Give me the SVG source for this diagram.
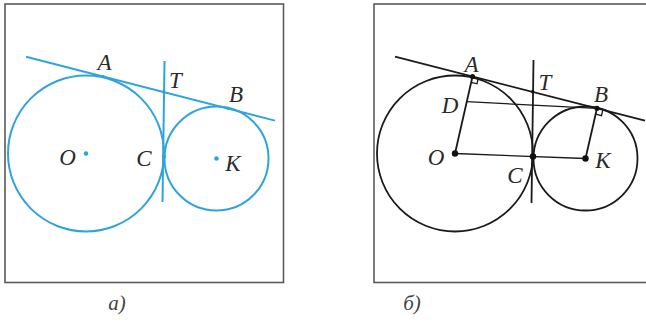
<svg xmlns="http://www.w3.org/2000/svg" width="646" height="328" viewBox="0 0 646 328">
<style>
.frame{fill:#fff;stroke:#5a5a5a;stroke-width:1.6}
.b{fill:none;stroke:#2fa4dc;stroke-width:2}
.k{fill:none;stroke:#1a1a1a;stroke-width:1.8}
.kt{fill:none;stroke:#1a1a1a;stroke-width:1.3}
.bd{fill:#2fa4dc}
.kd{fill:#111}
.lbl{font-family:"Liberation Serif","DejaVu Serif",serif;font-style:italic;font-size:23px;fill:#2a2a2a;text-anchor:middle}
.cap{font-family:"Liberation Serif","DejaVu Serif",serif;font-style:italic;font-size:21px;fill:#444;text-anchor:middle}
</style>
<rect width="646" height="328" fill="#fff"/>
<g id="panel-a">
<rect class="frame" x="5" y="4" width="278.5" height="278.5"/>
<g id="a-circle-O"><circle class="b" cx="86" cy="153.5" r="78"/><circle class="bd" cx="86" cy="153.5" r="2.3"/></g>
<g id="a-circle-K"><circle class="b" cx="216.5" cy="158.5" r="52"/><circle class="bd" cx="216.5" cy="158.5" r="2.3"/></g>
<g id="a-lines">
<line class="b" x1="26" y1="56.7" x2="275" y2="120.6"/>
<line class="b" x1="164.5" y1="61" x2="162.5" y2="202"/>
</g>
<g id="a-points">
<circle class="bd" cx="103.5" cy="76.5" r="1.6"/>
<circle class="bd" cx="163.5" cy="91.8" r="1.6"/>
<circle class="bd" cx="228" cy="108.3" r="1.6"/>
<circle class="bd" cx="164" cy="156.5" r="2"/>
</g>
<g id="a-labels">
<text class="lbl" x="104.5" y="70">A</text>
<text class="lbl" x="175.5" y="88">T</text>
<text class="lbl" x="236" y="102">B</text>
<text class="lbl" x="67.5" y="165">O</text>
<text class="lbl" x="144" y="166">C</text>
<text class="lbl" x="233" y="171">K</text>
</g>
</g>
<g id="panel-b">
<rect class="frame" x="374" y="4" width="280" height="278.5"/>
<g id="b-circle-O"><circle class="k" cx="455" cy="153.5" r="78"/></g>
<g id="b-circle-K"><circle class="k" cx="585.5" cy="158.5" r="52"/></g>
<g id="b-connectors">
<line class="k" x1="395" y1="56.7" x2="645" y2="120.6"/>
<line class="k" x1="533.5" y1="60" x2="531.5" y2="203"/>
<line class="k" x1="455" y1="153.5" x2="472.5" y2="76.5"/>
<line class="k" x1="585.5" y1="158.5" x2="597" y2="108.3"/>
<line class="kt" x1="455" y1="153.5" x2="585.5" y2="158.5"/>
<line class="kt" x1="466.8" y1="101.7" x2="597" y2="108.3"/>
<polyline class="kt" points="478.3,78 477,83.8 471.2,82.3"/>
<polyline class="kt" points="602.8,109.8 601.5,115.7 595.7,114.2"/>
</g>
<g id="b-points">
<circle class="kd" cx="455" cy="153.5" r="3.2"/>
<circle class="kd" cx="585.5" cy="158.5" r="3.2"/>
<circle class="kd" cx="533" cy="156.5" r="3.2"/>
<circle class="kd" cx="472.5" cy="76.5" r="2.6"/>
<circle class="kd" cx="597" cy="108.3" r="2.6"/>
<circle class="kd" cx="532.7" cy="91.8" r="1.8"/>
</g>
<g id="b-labels">
<text class="lbl" x="471.5" y="72">A</text>
<text class="lbl" x="545" y="90">T</text>
<text class="lbl" x="601" y="102">B</text>
<text class="lbl" x="450" y="113">D</text>
<text class="lbl" x="436" y="165">O</text>
<text class="lbl" x="515" y="183">C</text>
<text class="lbl" x="603" y="168">K</text>
</g>
</g>
<text class="cap" x="117" y="310">а)</text>
<text class="cap" x="412" y="310">б)</text>
</svg>
